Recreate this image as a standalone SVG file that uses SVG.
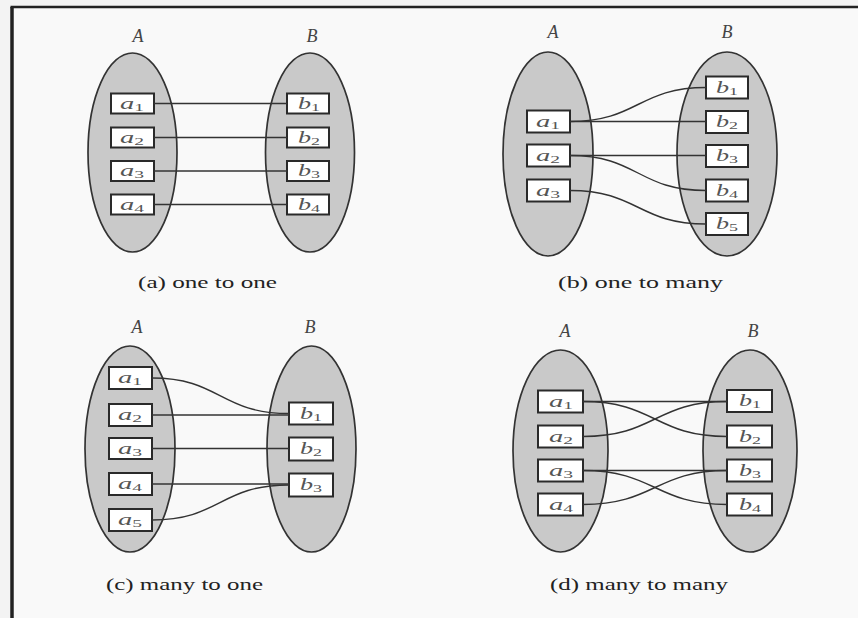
<svg xmlns="http://www.w3.org/2000/svg" width="858" height="618" viewBox="0 0 858 618">
<style>
.bg{fill:#f3f3f3}
.panel{fill:#f9f9f9}
.frame{stroke:#222;fill:none}
.set{fill:#c9c9c9;stroke:#333;stroke-width:1.7}
.box{fill:#ffffff;stroke:#2a2a2a;stroke-width:2}
.lbl{font-family:"Liberation Serif","Times New Roman",serif;font-style:italic;font-size:16px;fill:#555;text-anchor:middle}
.sub{font-style:normal;font-size:11px}
.setname{font-family:"Liberation Serif","Times New Roman",serif;font-style:italic;font-size:18px;fill:#444;text-anchor:middle}
.cap{font-family:"Liberation Serif","Times New Roman",serif;font-size:16px;fill:#222}
.conn path{fill:none;stroke:#333;stroke-width:1.4}
</style>
<rect class="bg" x="0" y="0" width="858" height="618"/>
<rect class="panel" x="12" y="7" width="846" height="611"/>
<path class="frame" d="M12,618 V7" stroke-width="3.5"/>
<path class="frame" d="M10.5,7 H858" stroke-width="2.5"/>

<!-- Panel (a) -->
<g id="a-setA"><ellipse class="set" cx="132.5" cy="152.5" rx="44.5" ry="99.5"/><text class="setname" x="138" y="42">A</text></g>
<g id="a-setB"><ellipse class="set" cx="310" cy="152.5" rx="44.5" ry="99.5"/><text class="setname" x="312" y="42">B</text></g>
<g id="a-a1"><rect class="box" x="111" y="93.5" width="43" height="20"/><text class="lbl" x="132" y="108.5" textLength="24" lengthAdjust="spacingAndGlyphs">a<tspan class="sub" dy="2">1</tspan></text></g>
<g id="a-a2"><rect class="box" x="111" y="127.5" width="43" height="20"/><text class="lbl" x="132" y="142.5" textLength="24" lengthAdjust="spacingAndGlyphs">a<tspan class="sub" dy="2">2</tspan></text></g>
<g id="a-a3"><rect class="box" x="111" y="161" width="43" height="20"/><text class="lbl" x="132" y="176" textLength="24" lengthAdjust="spacingAndGlyphs">a<tspan class="sub" dy="2">3</tspan></text></g>
<g id="a-a4"><rect class="box" x="111" y="194.5" width="43" height="20"/><text class="lbl" x="132" y="209.5" textLength="24" lengthAdjust="spacingAndGlyphs">a<tspan class="sub" dy="2">4</tspan></text></g>
<g id="a-b1"><rect class="box" x="287" y="93.5" width="42" height="20"/><text class="lbl" x="309" y="108.5" textLength="22" lengthAdjust="spacingAndGlyphs">b<tspan class="sub" dy="2">1</tspan></text></g>
<g id="a-b2"><rect class="box" x="287" y="127.5" width="42" height="20"/><text class="lbl" x="309" y="142.5" textLength="22" lengthAdjust="spacingAndGlyphs">b<tspan class="sub" dy="2">2</tspan></text></g>
<g id="a-b3"><rect class="box" x="287" y="161" width="42" height="20"/><text class="lbl" x="309" y="176" textLength="22" lengthAdjust="spacingAndGlyphs">b<tspan class="sub" dy="2">3</tspan></text></g>
<g id="a-b4"><rect class="box" x="287" y="194.5" width="42" height="20"/><text class="lbl" x="309" y="209.5" textLength="22" lengthAdjust="spacingAndGlyphs">b<tspan class="sub" dy="2">4</tspan></text></g>
<text class="cap" x="138" y="288" textLength="139" lengthAdjust="spacingAndGlyphs">(a) one to one</text>

<!-- Panel (b) -->
<g id="b-setA"><ellipse class="set" cx="548" cy="154" rx="45" ry="102"/><text class="setname" x="553" y="38">A</text></g>
<g id="b-setB"><ellipse class="set" cx="727" cy="154" rx="50" ry="102"/><text class="setname" x="727" y="38">B</text></g>
<g id="b-a1"><rect class="box" x="527" y="110.5" width="43" height="22"/><text class="lbl" x="548" y="126.5" textLength="24" lengthAdjust="spacingAndGlyphs">a<tspan class="sub" dy="2">1</tspan></text></g>
<g id="b-a2"><rect class="box" x="527" y="144.5" width="43" height="22"/><text class="lbl" x="548" y="160.5" textLength="24" lengthAdjust="spacingAndGlyphs">a<tspan class="sub" dy="2">2</tspan></text></g>
<g id="b-a3"><rect class="box" x="527" y="179.5" width="43" height="22"/><text class="lbl" x="548" y="195.5" textLength="24" lengthAdjust="spacingAndGlyphs">a<tspan class="sub" dy="2">3</tspan></text></g>
<g id="b-b1"><rect class="box" x="706" y="76.5" width="42" height="22"/><text class="lbl" x="727" y="92.5" textLength="22" lengthAdjust="spacingAndGlyphs">b<tspan class="sub" dy="2">1</tspan></text></g>
<g id="b-b2"><rect class="box" x="706" y="111" width="42" height="22"/><text class="lbl" x="727" y="127" textLength="22" lengthAdjust="spacingAndGlyphs">b<tspan class="sub" dy="2">2</tspan></text></g>
<g id="b-b3"><rect class="box" x="706" y="145" width="42" height="22"/><text class="lbl" x="727" y="161" textLength="22" lengthAdjust="spacingAndGlyphs">b<tspan class="sub" dy="2">3</tspan></text></g>
<g id="b-b4"><rect class="box" x="706" y="179.5" width="42" height="22"/><text class="lbl" x="727" y="195.5" textLength="22" lengthAdjust="spacingAndGlyphs">b<tspan class="sub" dy="2">4</tspan></text></g>
<g id="b-b5"><rect class="box" x="706" y="213" width="42" height="22"/><text class="lbl" x="727" y="229" textLength="22" lengthAdjust="spacingAndGlyphs">b<tspan class="sub" dy="2">5</tspan></text></g>
<text class="cap" x="558" y="288" textLength="165" lengthAdjust="spacingAndGlyphs">(b) one to many</text>

<!-- Panel (c) -->
<g id="c-setA"><ellipse class="set" cx="130" cy="449" rx="45" ry="103"/><text class="setname" x="137" y="333">A</text></g>
<g id="c-setB"><ellipse class="set" cx="311.5" cy="449" rx="44.5" ry="103"/><text class="setname" x="310" y="333">B</text></g>
<g id="c-a1"><rect class="box" x="109" y="367" width="43" height="22"/><text class="lbl" x="130" y="383" textLength="24" lengthAdjust="spacingAndGlyphs">a<tspan class="sub" dy="2">1</tspan></text></g>
<g id="c-a2"><rect class="box" x="109" y="404" width="43" height="22"/><text class="lbl" x="130" y="420" textLength="24" lengthAdjust="spacingAndGlyphs">a<tspan class="sub" dy="2">2</tspan></text></g>
<g id="c-a3"><rect class="box" x="109" y="438" width="43" height="21"/><text class="lbl" x="130" y="453.5" textLength="24" lengthAdjust="spacingAndGlyphs">a<tspan class="sub" dy="2">3</tspan></text></g>
<g id="c-a4"><rect class="box" x="109" y="473" width="43" height="22"/><text class="lbl" x="130" y="489" textLength="24" lengthAdjust="spacingAndGlyphs">a<tspan class="sub" dy="2">4</tspan></text></g>
<g id="c-a5"><rect class="box" x="109" y="509" width="43" height="22"/><text class="lbl" x="130" y="525" textLength="24" lengthAdjust="spacingAndGlyphs">a<tspan class="sub" dy="2">5</tspan></text></g>
<g id="c-b1"><rect class="box" x="289" y="402.5" width="44" height="22"/><text class="lbl" x="311" y="418.5" textLength="22" lengthAdjust="spacingAndGlyphs">b<tspan class="sub" dy="2">1</tspan></text></g>
<g id="c-b2"><rect class="box" x="289" y="437.5" width="44" height="23"/><text class="lbl" x="311" y="454" textLength="22" lengthAdjust="spacingAndGlyphs">b<tspan class="sub" dy="2">2</tspan></text></g>
<g id="c-b3"><rect class="box" x="289" y="473.5" width="44" height="23"/><text class="lbl" x="311" y="490" textLength="22" lengthAdjust="spacingAndGlyphs">b<tspan class="sub" dy="2">3</tspan></text></g>
<text class="cap" x="106" y="590" textLength="157" lengthAdjust="spacingAndGlyphs">(c) many to one</text>

<!-- Panel (d) -->
<g id="d-setA"><ellipse class="set" cx="560.5" cy="451" rx="47.5" ry="101"/><text class="setname" x="565" y="337">A</text></g>
<g id="d-setB"><ellipse class="set" cx="750" cy="451" rx="47" ry="101"/><text class="setname" x="753" y="337">B</text></g>
<g id="d-a1"><rect class="box" x="538" y="390.5" width="45" height="22"/><text class="lbl" x="561" y="406.5" textLength="24" lengthAdjust="spacingAndGlyphs">a<tspan class="sub" dy="2">1</tspan></text></g>
<g id="d-a2"><rect class="box" x="538" y="425.5" width="45" height="22"/><text class="lbl" x="561" y="441.5" textLength="24" lengthAdjust="spacingAndGlyphs">a<tspan class="sub" dy="2">2</tspan></text></g>
<g id="d-a3"><rect class="box" x="538" y="459.5" width="45" height="22"/><text class="lbl" x="561" y="475.5" textLength="24" lengthAdjust="spacingAndGlyphs">a<tspan class="sub" dy="2">3</tspan></text></g>
<g id="d-a4"><rect class="box" x="538" y="493.5" width="45" height="22"/><text class="lbl" x="561" y="509.5" textLength="24" lengthAdjust="spacingAndGlyphs">a<tspan class="sub" dy="2">4</tspan></text></g>
<g id="d-b1"><rect class="box" x="727" y="390" width="45" height="22"/><text class="lbl" x="750" y="406" textLength="22" lengthAdjust="spacingAndGlyphs">b<tspan class="sub" dy="2">1</tspan></text></g>
<g id="d-b2"><rect class="box" x="727" y="425.5" width="45" height="22"/><text class="lbl" x="750" y="441.5" textLength="22" lengthAdjust="spacingAndGlyphs">b<tspan class="sub" dy="2">2</tspan></text></g>
<g id="d-b3"><rect class="box" x="727" y="459.5" width="45" height="22"/><text class="lbl" x="750" y="475.5" textLength="22" lengthAdjust="spacingAndGlyphs">b<tspan class="sub" dy="2">3</tspan></text></g>
<g id="d-b4"><rect class="box" x="727" y="493.5" width="45" height="22"/><text class="lbl" x="750" y="509.5" textLength="22" lengthAdjust="spacingAndGlyphs">b<tspan class="sub" dy="2">4</tspan></text></g>
<text class="cap" x="550" y="590" textLength="178" lengthAdjust="spacingAndGlyphs">(d) many to many</text>

<g id="connectors" class="conn">
<path d="M154,103.5 H287"/>
<path d="M154,137.5 H287"/>
<path d="M154,171 H287"/>
<path d="M154,204.5 H287"/>

<path d="M570,121.5 H706"/>
<path d="M570,121.5 C638,121.5 638,87.5 706,87.5"/>
<path d="M570,155.5 H706"/>
<path d="M570,155.5 C638,155.5 638,190.5 706,190.5"/>
<path d="M570,190.5 C638,190.5 638,224 706,224"/>

<path d="M152,378 C220,378 220,413.5 289,413.5"/>
<path d="M152,415 H289"/>
<path d="M152,448.5 H289"/>
<path d="M152,484 H289"/>
<path d="M152,520 C220,520 220,485 289,485"/>

<path d="M583,401.5 H727"/>
<path d="M583,401.5 C655,401.5 655,436.5 727,436.5"/>
<path d="M583,436.5 C655,436.5 655,401.5 727,401.5"/>
<path d="M583,470.5 H727"/>
<path d="M583,470.5 C655,470.5 655,504.5 727,504.5"/>
<path d="M583,504.5 C655,504.5 655,470.5 727,470.5"/>
</g>
</svg>
